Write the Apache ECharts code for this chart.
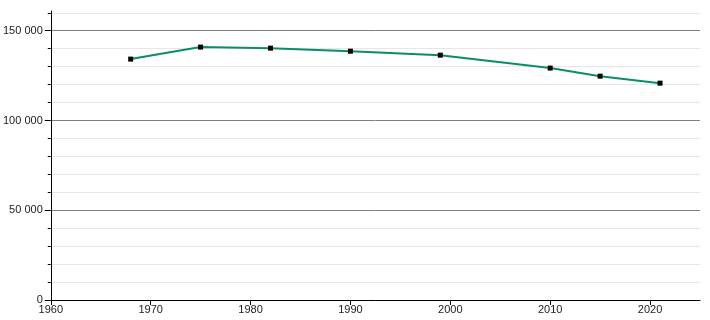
<!DOCTYPE html>
<html><head><meta charset="utf-8">
<script src="https://cdn.jsdelivr.net/npm/echarts@6/dist/echarts.min.js"></script>
<style>html,body{margin:0;padding:0;background:#fff}#c{width:710px;height:320px}</style>
</head><body><div id="c"></div>
<script>
const years = [1968, 1975, 1982, 1990, 1999, 2010, 2015, 2021];
const population = [134200, 140900, 140300, 138600, 136400, 129200, 124700, 120800];
const xTicks = [1960, 1970, 1980, 1990, 2000, 2010, 2020];
const yTicks = [0, 50000, 100000, 150000];

const chart = echarts.init(document.getElementById('c'), null, {renderer: 'canvas'});
const fmt = v => String(v).replace(/\B(?=(\d{3})+(?!\d))/g, ' ');
chart.setOption({
  animation: false,
  grid: {left: 49, right: 10, top: 11, bottom: 20, containLabel: false},
  xAxis: {
    type: 'value', min: 1960, max: 2025, interval: 10,
    axisLine: {show: true, onZero: false, lineStyle: {color: '#000', width: 1}},
    axisTick: {show: true, length: 5, customValues: xTicks, lineStyle: {color: '#000'}},
    axisLabel: {color: '#222', fontFamily: 'Liberation Sans, Arial, sans-serif', fontSize: 11, margin: 4,
      formatter: v => xTicks.includes(v) ? String(v) : ''},
    splitLine: {show: false}
  },
  yAxis: {
    type: 'value', min: 0, max: 161000, interval: 50000,
    axisLine: {show: true, lineStyle: {color: '#000', width: 1}},
    axisTick: {show: true, length: 6, customValues: yTicks, lineStyle: {color: '#000'}},
    minorTick: {show: true, splitNumber: 5, length: 3, lineStyle: {color: '#000'}},
    minorSplitLine: {show: true, lineStyle: {color: '#e6e6e6', width: 1}},
    axisLabel: {color: '#222', fontFamily: 'Liberation Sans, Arial, sans-serif', fontSize: 11, margin: 8,
      formatter: v => yTicks.includes(v) ? fmt(v) : ''},
    splitLine: {show: true, lineStyle: {color: ['#808080', '#808080', '#808080', '#808080', 'rgba(0,0,0,0)'], width: 1}}
  },
  series: [{
    type: 'line',
    data: years.map((y, i) => [y, population[i]]),
    lineStyle: {color: '#0b8d6b', width: 2},
    itemStyle: {color: '#000', borderWidth: 0},
    symbol: 'rect', symbolSize: 5, showSymbol: true,
    z: 3
  }]
});
</script></body></html>
